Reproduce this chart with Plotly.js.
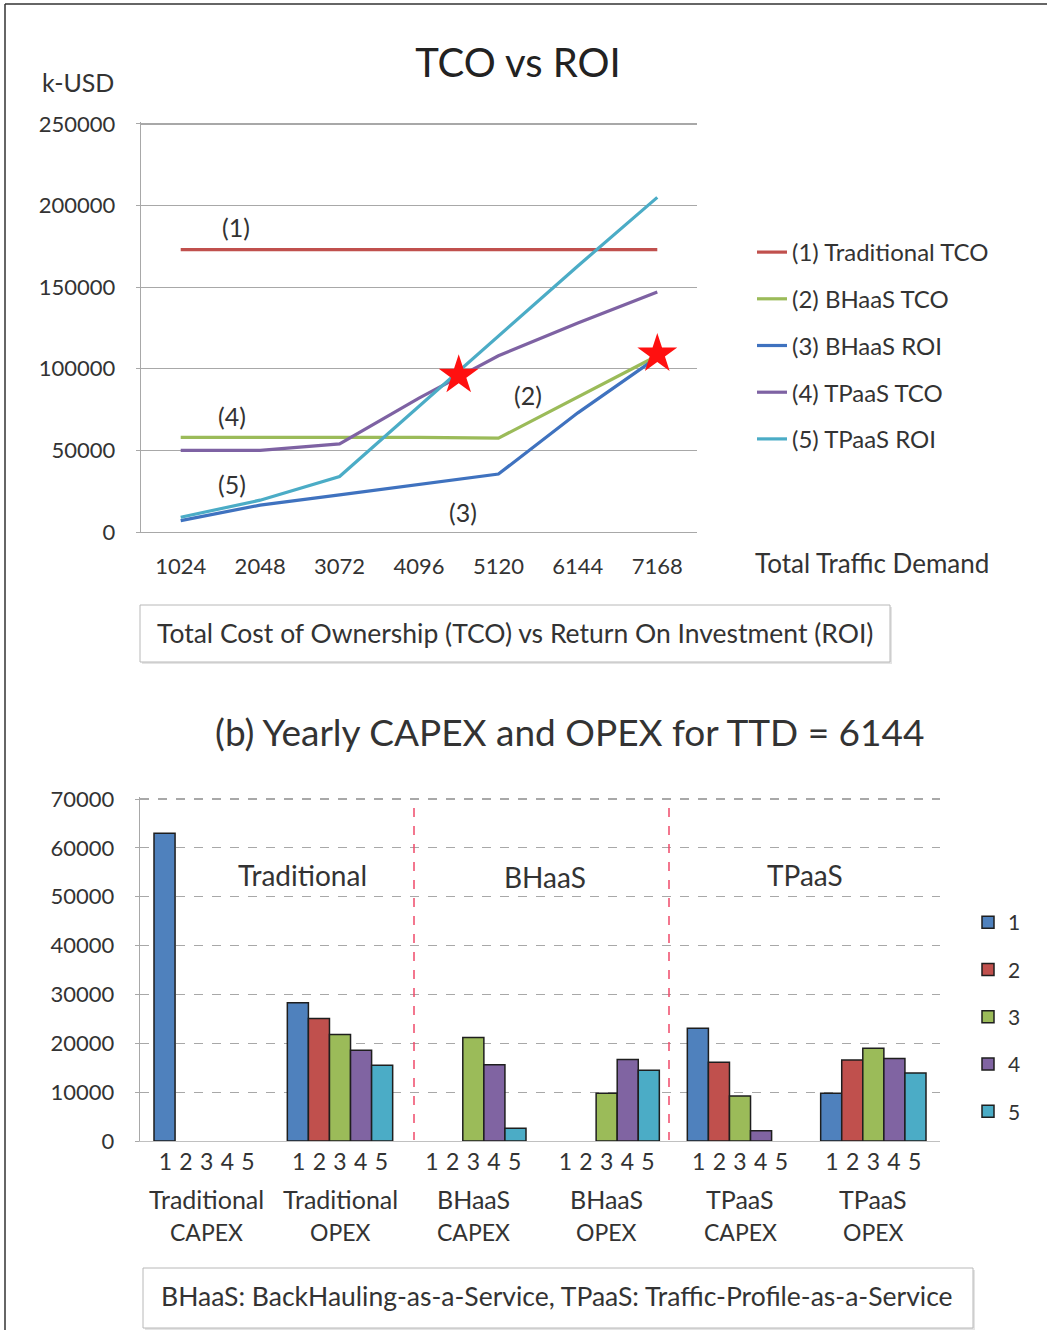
<!DOCTYPE html>
<html><head><meta charset="utf-8">
<script src="https://cdn.plot.ly/plotly-3.0.1.min.js"></script>
<style>html,body{margin:0;padding:0;background:#fff;} #chart{width:1047px;height:1330px;}</style>
</head><body><div id="chart"></div>
<script>
// ---------- Data: (a) TCO vs ROI ----------
const trafficDemand  = [1024, 2048, 3072, 4096, 5120, 6144, 7168];
const traditionalTCO = [173000, 173000, 173000, 173000, 173000, 173000, 173000];
const bhaasTCO       = [58000, 58000, 58000, 58000, 57500, 83000, 108000];
const bhaasROI       = [7000, 16500, 22700, 29000, 35500, 73000, 107000];
const tpaasTCO       = [50000, 50000, 54000, 82000, 108000, 128000, 147000];
const tpaasROI       = [9000, 19500, 34000, 77000, 120000, 163000, 205000];
const breakEvenTTD   = [4608, 7168];
const breakEvenValue = [96000, 109000];
const lineNames = ['(1) Traditional TCO', '(2) BHaaS TCO', '(3) BHaaS ROI', '(4) TPaaS TCO', '(5) TPaaS ROI'];
const lineTags  = ['(1)', '(2)', '(3)', '(4)', '(5)'];

// ---------- Data: (b) yearly CAPEX / OPEX ----------
const costCategories = ['Traditional CAPEX', 'Traditional OPEX', 'BHaaS CAPEX', 'BHaaS OPEX', 'TPaaS CAPEX', 'TPaaS OPEX'];
const categoryLine1  = ['Traditional', 'Traditional', 'BHaaS', 'BHaaS', 'TPaaS', 'TPaaS'];
const categoryLine2  = ['CAPEX', 'OPEX', 'CAPEX', 'OPEX', 'CAPEX', 'OPEX'];
const yearNames = ['1', '2', '3', '4', '5'];
const year1 = [63000, 28300, 0, 0, 23100, 9800];
const year2 = [0, 25100, 0, 0, 16100, 16600];
const year3 = [0, 21800, 21200, 9800, 9200, 19000];
const year4 = [0, 18600, 15600, 16700, 2100, 16900];
const year5 = [0, 15500, 2600, 14500, 0, 13900];
const sectionNames = ['Traditional', 'BHaaS', 'TPaaS'];
const topTicks = [0, 50000, 100000, 150000, 200000, 250000];
const barTicks = [0, 10000, 20000, 30000, 40000, 50000, 60000, 70000];

// ---------- Styling ----------
const W = 1047, H = 1330;
const px = v => v / W;
const py = v => 1 - v / H;
const FONT = 'Lato, "Open Sans", sans-serif';
const TXT = '#333333';
const lineColors = ['#c0504d', '#9bbb59', '#3f72bf', '#7e62a3', '#4bacc6'];
const barColors  = ['#4f81bd', '#c0504d', '#9bbb59', '#8064a2', '#4bacc6'];

const lineSeries = [traditionalTCO, bhaasTCO, bhaasROI, tpaasTCO, tpaasROI];
const traces = [];
lineSeries.forEach((ys, i) => {
  traces.push({
    type: 'scatter', mode: 'lines', x: trafficDemand, y: ys, name: lineNames[i],
    line: {color: lineColors[i], width: 3.2}, xaxis: 'x', yaxis: 'y',
    legend: 'legend', legendgroup: 'l' + i, hoverinfo: 'skip'
  });
});
traces.push({
  type: 'scatter', mode: 'markers', x: breakEvenTTD, y: breakEvenValue, showlegend: false,
  marker: {symbol: 'star', size: 30, color: '#ff1010', line: {width: 0}}, xaxis: 'x', yaxis: 'y', hoverinfo: 'skip'
});

const years = [year1, year2, year3, year4, year5];
years.forEach((ys, i) => {
  traces.push({
    type: 'bar', x: costCategories, y: ys.map(v => (v > 0 ? v : null)), name: yearNames[i],
    marker: {color: barColors[i], line: {color: '#1e1e1e', width: 1.5}},
    xaxis: 'x2', yaxis: 'y2', legend: 'legend2', legendgroup: 'b' + i, hoverinfo: 'skip'
  });
});

// ---------- Annotations ----------
const ann = [];
const txt = (text, x, y, size, extra) => Object.assign({
  text, x, y, xref: 'paper', yref: 'paper', showarrow: false,
  xanchor: 'center', yanchor: 'middle', font: {family: FONT, size, color: TXT}
}, extra || {});

ann.push(txt('k-USD', px(78), py(82), 25));
ann.push(txt('Total Traffic Demand', px(872), py(563), 26));
ann.push(txt('Total Cost of Ownership (TCO) vs Return On Investment (ROI)', px(515), py(633), 26.5));
ann.push(txt('(b) Yearly CAPEX and OPEX for TTD = 6144', px(569), py(731), 37));
ann.push(txt('BHaaS: BackHauling-as-a-Service, TPaaS: Traffic-Profile-as-a-Service', px(557), py(1296), 26.5));

// series tags inside the line chart
const tagPos = [[236, 227], [528, 395], [463, 512], [232, 416], [232, 484]];
lineTags.forEach((t, i) => ann.push(txt(t, px(tagPos[i][0]), py(tagPos[i][1]), 25)));

// section headers in bar chart
const secPos = [[302, 875], [545, 877], [805, 875]];
sectionNames.forEach((t, i) => ann.push(txt(t, px(secPos[i][0]), py(secPos[i][1]), 28)));

// category labels (two lines) under bar groups
costCategories.forEach((c, i) => {
  ann.push({text: categoryLine1[i], x: c, y: py(1199), xref: 'x2', yref: 'paper', showarrow: false,
    xanchor: 'center', yanchor: 'middle', font: {family: FONT, size: 25, color: TXT}});
  ann.push({text: categoryLine2[i], x: c, y: py(1232), xref: 'x2', yref: 'paper', showarrow: false,
    xanchor: 'center', yanchor: 'middle', font: {family: FONT, size: 23, color: TXT}});
});

// ---------- Shapes ----------
const shapes = [
  // outer frame (top + left)
  {type: 'line', xref: 'paper', yref: 'paper', x0: px(5), x1: 1, y0: py(4), y1: py(4), line: {color: '#333', width: 1.5}},
  {type: 'line', xref: 'paper', yref: 'paper', x0: px(5), x1: px(5), y0: py(4), y1: 0, line: {color: '#333', width: 1.5}},
  // caption box (a)
  {type: 'rect', xref: 'paper', yref: 'paper', x0: px(142), x1: px(892), y0: py(664), y1: py(607), line: {width: 0}, fillcolor: '#e4e4e4'},
  {type: 'rect', xref: 'paper', yref: 'paper', x0: px(140), x1: px(890), y0: py(662), y1: py(605), line: {color: '#b8b8b8', width: 1}, fillcolor: '#ffffff'},
  // caption box (b)
  {type: 'rect', xref: 'paper', yref: 'paper', x0: px(145), x1: px(975), y0: py(1330), y1: py(1270), line: {width: 0}, fillcolor: '#e4e4e4'},
  {type: 'rect', xref: 'paper', yref: 'paper', x0: px(143), x1: px(973), y0: py(1328), y1: py(1268), line: {color: '#b8b8b8', width: 1}, fillcolor: '#ffffff'},
  // red dashed separators
  {type: 'line', xref: 'paper', yref: 'paper', x0: px(414), x1: px(414), y0: py(808), y1: py(1140), line: {color: '#f04a6a', width: 1.5, dash: 'dash'}},
  {type: 'line', xref: 'paper', yref: 'paper', x0: px(669), x1: px(669), y0: py(808), y1: py(1140), line: {color: '#f04a6a', width: 1.5, dash: 'dash'}}
];

const nb = '\u00A0\u200A';
const layout = {
  width: W, height: H, margin: {l: 0, r: 0, t: 0, b: 0},
  paper_bgcolor: '#fff', plot_bgcolor: 'rgba(0,0,0,0)',
  font: {family: FONT, color: TXT},
  title: {text: 'TCO vs ROI', x: px(518), y: py(63), xref: 'paper', yref: 'paper',
    xanchor: 'center', yanchor: 'middle', font: {family: FONT, size: 40, color: '#222'}},
  xaxis: {
    domain: [px(141), px(697)], anchor: 'y', type: 'linear', range: [512, 7680],
    tickvals: trafficDemand, ticktext: trafficDemand.map(String), ticks: '',
    showgrid: false, zeroline: false, showline: true, linecolor: '#a8a8a8', linewidth: 1.3,
    tickfont: {family: FONT, size: 22, color: TXT}, ticklabelstandoff: 14
  },
  yaxis: {
    domain: [py(532), py(121.5)], anchor: 'x', range: [0, 251500], tickvals: topTicks, tickformat: 'd',
    showgrid: true, gridcolor: '#a8a8a8', gridwidth: 1.3, zeroline: false,
    showline: true, linecolor: '#a8a8a8', linewidth: 1.3, ticks: 'outside', ticklen: 4, tickcolor: '#a8a8a8',
    tickfont: {family: FONT, size: 22, color: TXT}, ticklabelstandoff: 16
  },
  xaxis2: {
    domain: [px(140), px(940)], anchor: 'y2', type: 'category',
    tickvals: costCategories, ticktext: costCategories.map(() => yearNames.join(nb)), ticks: '',
    showgrid: false, zeroline: false, showline: true, linecolor: '#c0c0c0', linewidth: 1,
    tickfont: {family: FONT, size: 23, color: TXT}, ticklabelstandoff: 0
  },
  yaxis2: {
    domain: [py(1141), py(796.6)], anchor: 'x2', range: [0, 70500], tickvals: barTicks, tickformat: 'd',
    showgrid: true, gridcolor: '#a8a8a8', gridwidth: 1.2, griddash: 'dash', zeroline: false,
    showline: true, linecolor: '#a8a8a8', linewidth: 1.3, ticks: 'outside', ticklen: 4, tickcolor: '#a8a8a8',
    tickfont: {family: FONT, size: 22, color: TXT}, ticklabelstandoff: 16
  },
  barmode: 'group', bargap: 0.21, bargroupgap: 0,
  legend: {x: px(752), y: py(230), xanchor: 'left', yanchor: 'top', traceorder: 'grouped',
    tracegroupgap: 12.5, bgcolor: 'rgba(0,0,0,0)', font: {family: FONT, size: 24, color: TXT}},
  legend2: {x: px(968), y: py(902), xanchor: 'left', yanchor: 'top', traceorder: 'grouped',
    tracegroupgap: 17, bgcolor: 'rgba(0,0,0,0)', font: {family: FONT, size: 21, color: TXT}},
  annotations: ann,
  shapes: shapes
};

Plotly.newPlot('chart', traces, layout, {staticPlot: true, displayModeBar: false});
</script>
</body></html>
